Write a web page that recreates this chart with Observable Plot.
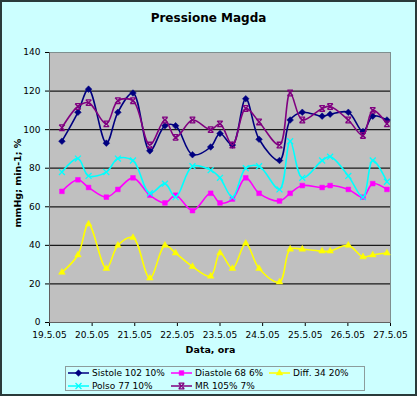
<!DOCTYPE html>
<html><head><meta charset="utf-8">
<script src="https://cdn.jsdelivr.net/npm/d3@7"></script>
<script src="https://cdn.jsdelivr.net/npm/@observablehq/plot@0.6"></script>
<style>
body{margin:0;background:#fff;}
#wrap{position:relative;width:417px;height:396px;background:#ccffff;font-family:"DejaVu Sans",Verdana,sans-serif;overflow:hidden;color:#000}
#title{position:absolute;top:11px;left:0;width:417px;text-align:center;font-weight:bold;font-size:12px}
#chart{position:absolute;top:40px;left:0}
#xlab{position:absolute;top:344px;left:0;width:417px;text-align:center;font-weight:bold;font-size:9.5px;padding-left:2px}
#ylab{position:absolute;top:183px;left:17px;transform:translate(-50%,-50%) rotate(-90deg);font-weight:bold;font-size:9.5px;white-space:nowrap}
#legend{position:absolute;left:65px;top:366px;width:300px;height:25px;border:1px solid #8c9c9c;box-sizing:border-box}
.li{position:absolute;font-size:9px;display:flex;align-items:center;white-space:nowrap}
.li svg{margin-right:2px}
#border{position:absolute;inset:0;border:2px solid #2a3a3a;pointer-events:none}
</style></head>
<body>
<div id="wrap">
  <div id="title">Pressione Magda</div>
  <div id="chart"></div>
  <div id="xlab">Data, ora</div>
  <div id="ylab">mmHg; min-1; %</div>
  <div id="legend"></div>
  <div id="border"></div>
</div>
<script>
// measurement times (day, hour, minute) in May 2005
const times = [
  [19,7,0],[19,16,0],[19,22,0],[20,8,0],[20,14,30],[20,23,0],
  [21,8,30],[21,17,0],[21,23,0],[22,8,30],[22,18,45],[23,0,0],
  [23,7,0],[23,14,30],[23,22,0],[24,9,30],[24,15,30],[24,22,20],
  [25,9,30],[25,14,0],[26,0,15],[26,8,30],[26,14,0],[26,22,0]
];
const sistole  = [94,109,121,93,109,119,89,102,102,87,91,98,92,116,95,84,105,109,107,108,109,99,107,105];
const diastole = [68,74,70,65,69,75,66,62,66,58,67,62,64,75,67,63,67,71,70,71,69,65,72,69];
const diff     = [26,35,51,28,40,44,23,40,36,29,24,36,28,41,28,21,38,38,37,37,40,34,35,36];
const polso    = [78,85,76,78,85,84,67,72,65,81,79,75,65,80,81,69,94,75,84,86,76,65,84,73];
const mr       = [101,112,114,103,115,115,92,105,96,105,100,103,92,111,104,92,119,105,111,112,105,97,110,103];
const seriesNames = ["Sistole 102 10%","Diastole 68 6%","Diff. 34 20%","Polso 77 10%","MR 105% 7%"];
const seriesColors = ["#000080","#ff00ff","#ffff00","#00ffff","#800080"];
const yTicks = [0,20,40,60,80,100,120,140];
const xTickDays = [19,20,21,22,23,24,25,26,27];

const hourglass = {draw(ctx, size){
  const r = Math.sqrt(size/Math.PI);
  ctx.moveTo(-r,-r); ctx.lineTo(r,r);
  ctx.moveTo(r,-r); ctx.lineTo(-r,r);
  ctx.moveTo(-r,-r); ctx.lineTo(r,-r);
  ctx.moveTo(-r,r); ctx.lineTo(r,r);
}};
const symbols = [d3.symbolDiamond2, d3.symbolSquare2, d3.symbolTriangle2, d3.symbolTimes, hourglass];
const filled = [true,true,true,false,false];
const radii = [3,3,3.2,2.8,2.8];

const dates = times.map(([d,h,m]) => new Date(Date.UTC(2005,4,d,h,m)));
const allVals = [sistole, diastole, diff, polso, mr];
const rows = [];
allVals.forEach((vals,si) => vals.forEach((v,i) => rows.push({s:si, name:seriesNames[si], date:dates[i], v})));
const xTicks = xTickDays.map(d => new Date(Date.UTC(2005,4,d)));
const fmt = d => `${d.getUTCDate()}.${d.getUTCMonth()+1}.05`;

const marks = [
  Plot.frame({fill:"#c0c0c0", stroke:"#7f8f8f"}),
  Plot.ruleY(yTicks.filter(t => t>0 && t<140), {stroke:"#1a1a1a", strokeWidth:1.3}),
  Plot.ruleY([0], {stroke:"#606060"}),
  Plot.ruleX([xTicks[0]], {stroke:"#606060"}),
];
[0,1,2,3,4].forEach(si => {
  const data = rows.filter(r => r.s===si);
  marks.push(Plot.line(data, {x:"date", y:"v", stroke:seriesColors[si], strokeWidth:1.6, curve:"catmull-rom"}));
  marks.push(Plot.dot(data, {x:"date", y:"v", symbol:()=>symbols[si], r:radii[si],
    fill: filled[si] ? seriesColors[si] : "none", stroke: seriesColors[si], strokeWidth: filled[si]?0.5:1.3}));
});

const chart = Plot.plot({
  width:417, height:320,
  marginLeft:49, marginRight:27, marginTop:12, marginBottom:38,
  style:{background:"transparent", fontFamily:"DejaVu Sans, Verdana, sans-serif", fontSize:"9px", color:"#000", overflow:"visible"},
  x:{type:"utc", domain:[xTicks[0], xTicks[xTicks.length-1]], ticks:xTicks, tickFormat:fmt, label:null, tickSize:4},
  y:{domain:[0,140], ticks:yTicks, label:null, tickSize:4},
  symbol:{type:"identity"},
  marks
});
document.getElementById("chart").appendChild(chart);

// legend
const leg = d3.select("#legend");
const pos = [[1,1],[104,1],[202,1],[1,14],[104,14]];
seriesNames.forEach((name,si) => {
  const item = leg.append("div").attr("class","li").style("left",pos[si][0]+"px").style("top",pos[si][1]+"px");
  const svg = item.append("svg").attr("width",23).attr("height",10);
  svg.append("line").attr("x1",1).attr("x2",22).attr("y1",5).attr("y2",5).attr("stroke",seriesColors[si]).attr("stroke-width",1.5);
  svg.append("path").attr("transform","translate(11.5,5)")
    .attr("d", d3.symbol(symbols[si], Math.PI*radii[si]*radii[si])())
    .attr("fill", filled[si]?seriesColors[si]:"none").attr("stroke",seriesColors[si]).attr("stroke-width",filled[si]?0.5:1.3);
  item.append("span").text(name);
});
</script>
</body></html>
